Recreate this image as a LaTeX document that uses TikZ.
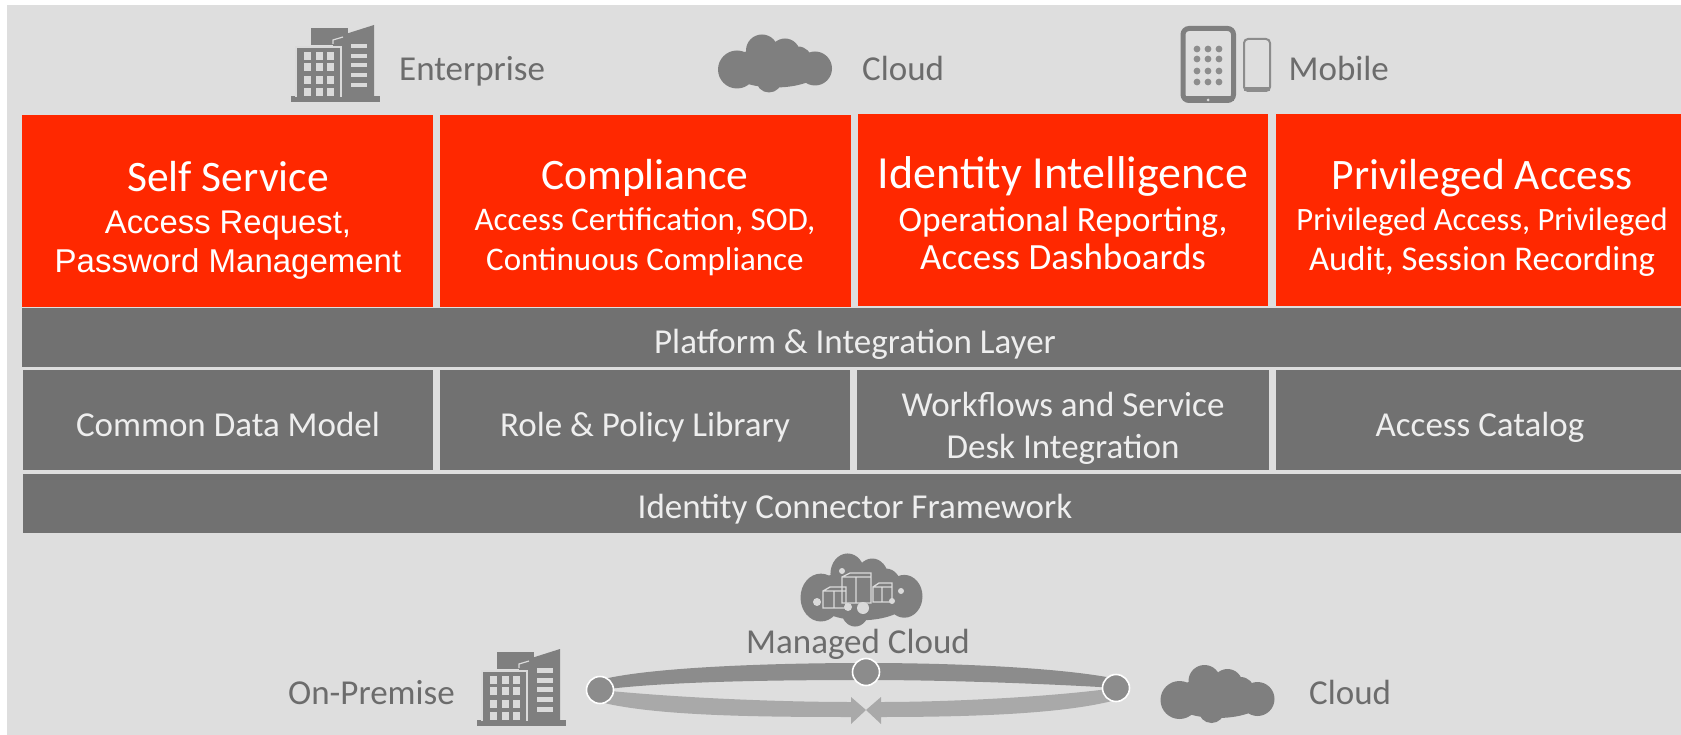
\documentclass[tikz,border=0pt]{standalone}
\usepackage{fontspec}
\setmainfont{Carlito}
\newfontfamily\arialf{Liberation Sans}
\definecolor{bgc}{HTML}{DEDEDE}
\definecolor{redc}{HTML}{FF2800}
\definecolor{greyc}{HTML}{717171}
\definecolor{iconc}{HTML}{7F7F7F}
\definecolor{labc}{HTML}{6C6C6C}
\definecolor{winc}{HTML}{DADADA}
\definecolor{upc}{HTML}{8C8C8C}
\definecolor{lowc}{HTML}{A9A9A9}
\newcommand{\fs}[1]{\fontsize{#1}{#1}\selectfont}
\tikzset{
 redbox/.style={fill=redc,draw=none,minimum height=192,inner sep=0,anchor=north west},
 greybox/.style={fill=greyc,draw=none,inner sep=0,anchor=north west},
 t/.style={anchor=base,inner sep=0,text=white,yshift=-1.5pt},
 tg/.style={anchor=base,inner sep=0,text=white!88!greyc,font=\fs{35},yshift=-1.5pt},
 lab/.style={anchor=base west,inner sep=0,text=labc,font=\fs{35},yshift=-1.5pt},
 dot/.style={circle,fill=upc,draw=white,line width=1.6,minimum size=27,inner sep=0},
 cloudicon/.pic={
  \fill[iconc] (-38,6) circle (19) (-13,-13) circle (16) (10,-10) circle (15)
    (23,-3) circle (14) (40,5) circle (17) (-6,16) circle (13)
    (0,4) ellipse (48 and 20);
 },
 buildicon/.pic={
  \fill[iconc] (0,71) rectangle (89,77);
  \fill[iconc] (20,3) rectangle (57,20);
  \fill[iconc] (42,13) -- (83,0) -- (83,72) -- (42,72) -- cycle;
  \fill[iconc,draw=winc,line width=1.2] (42,19) -- (42,15) -- (52,12);
  \fill[iconc,draw=winc,line width=1.2] (5,72) -- (5,22) -- (50,22) -- (50,72);
  \foreach \xx in {13,25,36} \foreach \yy in {27,38,51,63}
    \fill[winc] (\xx,\yy) rectangle ++(7,8);
  \foreach \yy in {19,29,38,48,58}
    \fill[winc] (60,\yy) rectangle ++(16,4.5);
 },
}
\begin{document}
\begin{tikzpicture}[x=1pt,y=-1pt]
\useasboundingbox (0,0) rectangle (1681,735);
\fill[white] (0,0) rectangle (1681,735);
\fill[bgc] (7,5) rectangle (1681,735);
% red row
\node[redbox,minimum width=411] (r1) at (22,114.5) {};
\node[redbox,minimum width=411] (r2) at (440,114.5) {};
\node[redbox,minimum width=410] (r3) at (858,113.5) {};
\node[redbox,minimum width=405] (r4) at (1276,114) {};
% grey rows
\node[greybox,minimum width=1659,minimum height=59] (plat) at (22,308) {};
\node[greybox,minimum width=410,minimum height=100] (g1) at (23,370) {};
\node[greybox,minimum width=410,minimum height=100] (g2) at (440,370) {};
\node[greybox,minimum width=412,minimum height=100] (g3) at (857,370) {};
\node[greybox,minimum width=405,minimum height=100] (g4) at (1276,370) {};
\node[greybox,minimum width=1658,minimum height=59] (icf) at (23,474) {};
% red text
\node[t,font=\fs{43.5}] (a1) at (228,190) {Self Service};
\node[t,font=\arialf\fs{32.8}] (a2) at (228,232) {Access Request,};
\node[t,font=\arialf\fs{33}] (a3) at (228,271) {Password Management};
\node[t,font=\fs{43.5}] (b1) at (645,188) {Compliance};
\node[t,font=\fs{33}] (b2) at (645,229) {Access Certification, SOD,};
\node[t,font=\fs{33}] (b3) at (645,269) {Continuous Compliance};
\node[t,font=\fs{46}] (c1) at (1063,187) {Identity Intelligence};
\node[t,font=\fs{35.5}] (c2) at (1063,230) {Operational Reporting,};
\node[t,font=\fs{37}] (c3) at (1063,268) {Access Dashboards};
\node[t,font=\fs{43.5}] (d1) at (1482,188) {Privileged Access};
\node[t,font=\fs{32.6}] (d2) at (1482,229) {Privileged Access, Privileged};
\node[t,font=\fs{34.7}] (d3) at (1482,269) {Audit, Session Recording};
% grey text
\node[tg] (p) at (855,352) {Platform \& Integration Layer};
\node[tg] (g1t) at (228,435) {Common Data Model};
\node[tg] (g2t) at (645,435) {Role \& Policy Library};
\node[tg] (g3a) at (1063,415) {Workflows and Service};
\node[tg] (g3b) at (1063,457) {Desk Integration};
\node[tg] (g4t) at (1480,435) {Access Catalog};
\node[tg] (it) at (855,517) {Identity Connector Framework};
% top row
\pic at (291,25) {buildicon};
\node[lab] (ent) at (399,79) {Enterprise};
\pic at (775,63.5) {cloudicon};
\node[lab] (cl1) at (862,79) {Cloud};
\draw[iconc,line width=5,rounded corners=6] (1183,28.5) rectangle (1233.5,100.5);
\fill[iconc] (1183,96) rectangle (1233.5,101);
\fill[winc] (1208,100) circle (1.5);
\foreach \xx in {1197,1208,1219} \foreach \yy in {49,59,71,82}
  \fill[iconc!85!bgc] (\xx,\yy) circle (3.4);
\draw[upc,line width=2,rounded corners=4] (1244,39) rectangle (1270,91);
\fill[upc] (1244,87) rectangle (1270,91.5);
\node[lab] (mob) at (1288.5,79) {Mobile};
% bottom
\pic at (477,649) {buildicon};
\node[lab] (onp) at (288,703) {On-Premise};
\pic at (1217.5,694) {cloudicon};
\node[lab] (cl2) at (1309,703) {Cloud};
% managed cloud
\pic[xscale=1.07,yscale=1.26] at (861.5,590) {cloudicon};
\begin{scope}[draw=winc,line width=1.3]
 \draw (842,577) rectangle (871,603) (842,577) -- (850,573) -- (871,573) -- (871,577) (856,577) -- (856,603);
 \draw (823,591) rectangle (846,608) (823,591) -- (830,587) -- (846,587) -- (846,591) (834,591) -- (834,608);
 \draw (873,587) rectangle (892,602) (873,587) -- (879,583) -- (892,583) -- (892,587) (882,587) -- (882,602);
\end{scope}
\fill[winc] (842,571) circle (3) (817,602) circle (4) (848,607) circle (4) (863,608) circle (6) (901,591) circle (3) (892,601) circle (3);
\node[lab] (mc) at (746,652) {Managed Cloud};
% ring
\coordinate (Lc) at (600,690);
\coordinate (Mc) at (866,672);
\coordinate (Rc) at (1116,688);
\coordinate (Tip) at (866,710);
\fill[upc] (604,679) .. controls (650,668) and (760,663) .. (866,663)
   .. controls (960,663) and (1060,668) .. (1112,678)
   -- (Rc) .. controls (1070,685) and (960,680) .. (866,680)
   .. controls (760,680) and (660,682) .. (Lc) -- cycle;
\fill[lowc] (Lc) .. controls (680,698) and (780,702) .. (851,702)
   -- (851,697) -- (Tip) -- (851,724) -- (851,717)
   .. controls (760,717) and (660,716) .. (604,703) -- cycle;
\fill[lowc] (Rc) .. controls (1050,697) and (950,702) .. (881,702)
   -- (881,697) -- (Tip) -- (881,724) -- (881,717)
   .. controls (970,717) and (1060,714) .. (1112,701) -- cycle;
\node[dot] (L) at (Lc) {};
\node[dot] (M) at (Mc) {};
\node[dot] (R) at (Rc) {};
\end{tikzpicture}
\end{document}
